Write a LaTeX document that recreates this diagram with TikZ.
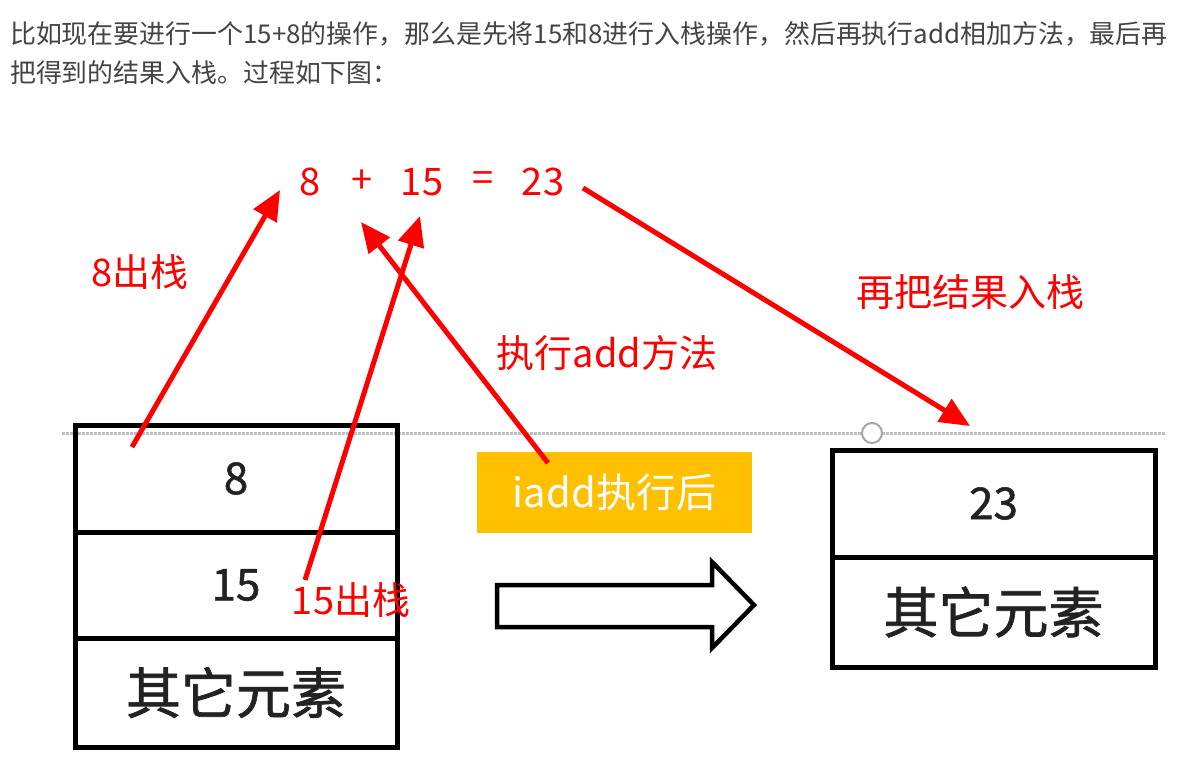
\documentclass[tikz,border=0pt]{standalone}
\usepackage{fontspec}
\setmainfont{Noto Sans CJK SC}
\newfontface\stackface{Noto Sans CJK SC}[FakeBold=1.2]
\usetikzlibrary{arrows.meta,calc}
\definecolor{redc}{HTML}{FF0000}
\definecolor{gold}{HTML}{FFC000}
\definecolor{hdrgray}{HTML}{444444}
\definecolor{inkc}{HTML}{222222}
\begin{document}
\begin{tikzpicture}[x=1pt,y=-1pt,
  hdr/.style={anchor=west,inner sep=0,text=hdrgray,font=\fontsize{25.9}{28}\selectfont},
  eqtext/.style={inner sep=0,text=redc,font=\fontsize{38}{40}\selectfont},
  redlabel/.style={inner sep=0,text=redc,font=\fontsize{38}{40}\selectfont},
  cell/.style={draw=black,line width=5pt,rectangle,inner sep=0,text=inkc},
  numfont/.style={font=\stackface\fontsize{44}{46}\selectfont},
  cjkfont/.style={font=\stackface\fontsize{55}{58}\selectfont},
  redarrow/.style={draw=redc,line width=5pt,-{Triangle[length=30pt,width=26pt]}},
]
\useasboundingbox (0,0) rectangle (1192,756);
\fill[white] (0,0) rectangle (1192,756);

% header text
\node[hdr] (h1) at (10,34) {比如现在要进行一个15+8的操作，那么是先将15和8进行入栈操作，然后再执行add相加方法，最后再};
\node[hdr] (h2) at (10,73) {把得到的结果入栈。过程如下图：};

% dotted guide line and handle
\coordinate (gl) at (62,433);
\coordinate (gr) at (1165,433);
\draw[gray!50,line width=3pt,dash pattern=on 2.5pt off 1.5pt] (gl) -- (gr);
\node[circle,draw=gray!70,fill=white,line width=2pt,minimum size=20pt,inner sep=0] (handle) at (872,433) {};

% left stack
\node[cell,numfont,minimum width=322pt,minimum height=107pt] (s8) at (236,478.5) {8};
\node[cell,numfont,minimum width=322pt,minimum height=106pt] (s15) at (236,585) {15};
\node[cell,cjkfont,minimum width=322pt,minimum height=109pt] (so) at (236,692.5) {其它元素};

% right stack
\node[cell,numfont,minimum width=323pt,minimum height=107pt] (r23) at (993.5,503.5) {23};
\node[cell,cjkfont,minimum width=323pt,minimum height=110pt] (ro) at (993.5,612) {其它元素};

% orange label
\node[rectangle,fill=gold,inner sep=0,minimum width=275pt,minimum height=81pt,text=white,font=\fontsize{40}{42}\selectfont] (iadd) at (614.5,492.5) {iadd执行后};

% block arrow
\draw[line width=4.5pt,line join=miter,fill=white] (497,585) -- (712,585) -- (712,562) -- (754,605) -- (712,648) -- (712,627) -- (497,627) -- cycle;

% equation
\node[eqtext] (e8) at (310,182) {8};
\node[eqtext] (eplus) at (362,182) {+};
\node[eqtext] (e15) at (422,182) {15};
\node[eqtext] (eeq) at (483,182) {=};
\node[eqtext] (e23) at (543,182) {23};

% labels
\node[redlabel] (l8) at (140,272) {8出栈};
\node[redlabel] (l15) at (351,600) {15出栈};
\node[redlabel] (ladd) at (607,353) {执行add方法};
\node[redlabel] (lres) at (970,292) {再把结果入栈};

% arrow end points
\coordinate (a1s) at (132,447);
\coordinate (a1e) at (280,190);
\coordinate (a2s) at (305,580);
\coordinate (a2e) at (420,216);
\coordinate (a3s) at (548,463);
\coordinate (a3e) at (361,222);
\coordinate (a4s) at (583,188);
\coordinate (a4e) at (970,426);

\draw[redarrow] (a1s) -- (a1e);
\draw[redarrow] (a2s) -- (a2e);
\draw[redarrow] (a3s) -- (a3e);
\draw[redarrow] (a4s) -- (a4e);
\end{tikzpicture}
\end{document}
